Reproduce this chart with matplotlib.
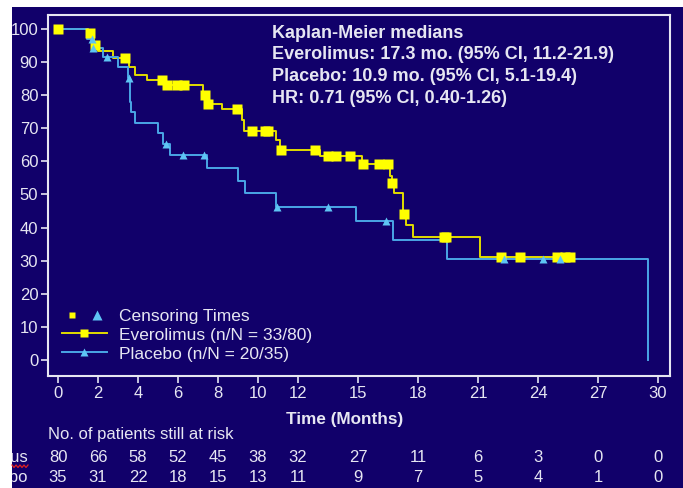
import numpy as np
import matplotlib
matplotlib.use("Agg")
from matplotlib import pyplot as plt
from matplotlib.lines import Line2D
from matplotlib.patches import Rectangle
from matplotlib.legend_handler import HandlerTuple
from matplotlib.transforms import blended_transform_factory

plt.rcParams['font.family'] = ['Liberation Sans', 'DejaVu Sans']

# Everolimus arm: step times and survival (%) after each step
evero_t = [0, 1.5, 1.8, 2.0, 2.75, 3.55, 3.85, 4.45, 5.35, 7.25, 7.45, 8.2,
           9.2, 9.3, 10.9, 11.1, 13.1, 15.2, 16.6, 16.7, 16.8, 17.25, 17.4,
           17.75, 21.1]
evero_s = [100, 98.75, 95.0, 93.4, 91.1, 88.5, 86.0, 84.7, 83.0, 80.0, 77.2,
           75.9, 72.5, 69.2, 66.5, 63.4, 61.6, 59.3, 55.5, 53.6, 50.3, 44.0,
           40.8, 37.2, 31.0]
evero_end = 25.8
evero_cens = [0, 1.6, 1.87, 3.35, 5.22, 5.45, 5.95, 6.3, 7.35, 7.52, 8.97,
              9.68, 10.35, 10.5, 11.15, 12.85, 13.5, 13.9, 14.6, 15.27, 16.05,
              16.5, 16.72, 17.3, 19.3, 19.4, 22.13, 23.1, 24.95, 25.35, 25.6]

# Placebo arm
plac_t = [0, 1.45, 1.7, 2.25, 3.0, 3.5, 3.6, 3.65, 3.85, 5.0, 5.27, 5.6,
          7.43, 9.0, 9.35, 10.9, 14.9, 16.77, 19.43, 29.5]
plac_s = [100, 97.1, 94.3, 91.4, 88.4, 85.3, 78.0, 75.0, 71.7, 68.5, 65.3,
          61.8, 58.0, 54.1, 50.3, 46.2, 41.9, 36.3, 30.4, 0]
plac_end = 29.5
plac_cens = [1.68, 1.77, 2.43, 3.55, 5.38, 6.23, 7.3, 10.95, 13.48, 16.4,
             22.3, 24.27, 25.1]

risk_times = [0, 2, 4, 6, 8, 10, 12, 15, 18, 21, 24, 27, 30]
risk_evero = [80, 66, 58, 52, 45, 38, 32, 27, 11, 6, 3, 0, 0]
risk_plac = [35, 31, 22, 18, 15, 13, 11, 9, 7, 5, 4, 1, 0]

x_ticks = [0, 2, 4, 6, 8, 10, 12, 15, 18, 21, 24, 27, 30]
y_ticks = list(range(0, 101, 10))

navy = '#11006a'
fg = '#e6e6f2'
yellow = '#ffff00'
yline = '#e2dc00'
blue = '#4aa6e6'
tri = '#5ec4f4'
fs = 12

W, H = 683, 488
fig = plt.figure(figsize=(W / 100, H / 100), dpi=100)
fig.patch.set_facecolor(navy)

ax = fig.add_axes([48 / W, 112 / H, 622 / W, 361 / H])
ax.set_facecolor(navy)


def step_at(ts, ss, x):
    idx = np.searchsorted(ts, x, side='right') - 1
    return np.asarray(ss)[idx]


def step_xy(ts, ss, end):
    xs = list(ts) + [end]
    ys = list(ss) + [ss[-1]]
    return xs, ys


ex, ey = step_xy(evero_t, evero_s, evero_end)
px, py = step_xy(plac_t, plac_s, plac_end)
ax.step(ex, ey, where='post', color=yline, lw=1.4, zorder=2)
ax.step(px, py, where='post', color=blue, lw=1.4, zorder=3)
ax.plot(evero_cens, step_at(evero_t, evero_s, evero_cens), 's', color=yellow,
        ms=6.5, mec='none', zorder=4)
ax.plot(plac_cens, step_at(plac_t, plac_s, plac_cens), '^', color=tri,
        ms=5.5, mec='none', zorder=5)

ax.set_xlim(-0.5, 30.6)
ax.set_ylim(-4.83, 104.2)
ax.set_xticks(x_ticks)
ax.set_yticks(y_ticks)
for sp in ax.spines.values():
    sp.set_color(fg)
    sp.set_linewidth(1.5)
ax.tick_params(colors=fg, labelcolor=fg, labelsize=fs, length=5, width=1.2, pad=2)

# KM medians box
info = ["Kaplan-Meier medians",
        "Everolimus: 17.3 mo. (95% CI, 11.2-21.9)",
        "Placebo: 10.9 mo. (95% CI, 5.1-19.4)",
        "HR: 0.71 (95% CI, 0.40-1.26)"]
for i, line in enumerate(info):
    fig.text(272 / W, 1 - (33 + 21.8 * i) / H, line, color=fg, fontsize=13,
             fontweight='bold', va='center', ha='left')

# legend
h_cens = (Line2D([], [], ls='none', marker='s', color=yellow, ms=5, mec='none'),
          Line2D([], [], ls='none', marker='^', color=tri, ms=6.5, mec='none'))
h_e = Line2D([], [], color=yline, lw=1.4, marker='s', ms=6, mfc=yellow, mec='none')
h_p = Line2D([], [], color=blue, lw=1.4, marker='^', ms=6, mfc=tri, mec='none')
leg = ax.legend([h_cens, h_e, h_p],
                ["Censoring Times", "Everolimus (n/N = 33/80)", "Placebo (n/N = 20/35)"],
                handler_map={tuple: HandlerTuple(ndivide=None, pad=0.3)},
                loc='lower left', bbox_to_anchor=(0.008, 0.016), frameon=False,
                borderpad=0, fontsize=12.5, labelcolor=fg, handlelength=2.6,
                handletextpad=0.7, labelspacing=0.22)

# axis title and risk table
ax.text(14.35, -0.12, "Time (Months)", transform=blended_transform_factory(ax.transData, ax.transAxes),
        color=fg, fontsize=12.3, fontweight='bold', ha='center', va='center')
fig.text(48 / W, 1 - 434 / H, "No. of patients still at risk", color=fg,
         fontsize=fs, ha='left', va='center')
tr = blended_transform_factory(ax.transData, fig.transFigure)
for t, a, b in zip(risk_times, risk_evero, risk_plac):
    ax.text(t, 1 - 458 / H, str(a), transform=tr, color=fg, fontsize=fs,
            ha='center', va='center', clip_on=False)
    ax.text(t, 1 - 477 / H, str(b), transform=tr, color=fg, fontsize=fs,
            ha='center', va='center', clip_on=False)
fig.text(28 / W, 1 - 458 / H, "Everolimus", color=fg, fontsize=fs, ha='right', va='center')
fig.text(28 / W, 1 - 477 / H, "Placebo", color=fg, fontsize=fs, ha='right', va='center')

# red spell-check squiggle under the clipped label
zx = np.linspace(12, 28, 9)
zy = 465 + np.where(np.arange(9) % 2 == 0, 0, 2.5)
fig.add_artist(Line2D(zx / W, 1 - zy / H, color='#e02020', lw=0.9, zorder=11))

# white margins at top and left
fig.add_artist(Rectangle((0, 0), 12 / W, 1, transform=fig.transFigure,
                         facecolor='white', edgecolor='none', zorder=10))
fig.add_artist(Rectangle((0, 1 - 7 / H), 1, 7 / H, transform=fig.transFigure,
                         facecolor='white', edgecolor='none', zorder=10))

fig.savefig("out.png", dpi=100, facecolor=fig.get_facecolor())
